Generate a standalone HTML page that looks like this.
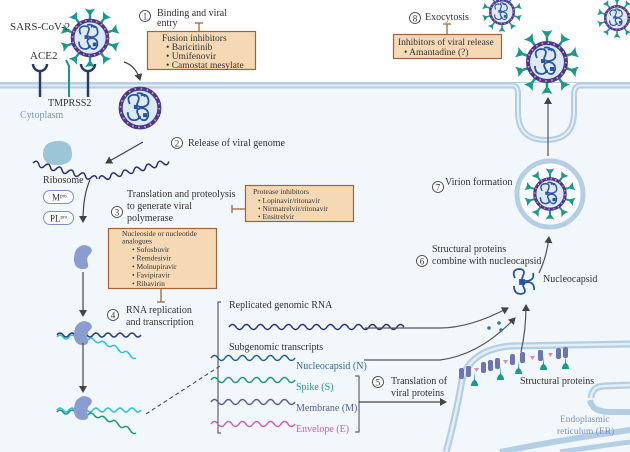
<!DOCTYPE html>
<html><head><meta charset="utf-8"><style>
html,body{margin:0;padding:0;background:#fff}
svg{display:block}
text{font-family:"Liberation Serif",serif;fill:#333}
</style></head><body>
<svg width="630" height="452" viewBox="0 0 630 452" xmlns="http://www.w3.org/2000/svg">
<defs>
<g id="sp"><path d="M-1.3 17 L-1.3 25 L1.3 25 L1.3 17Z" fill="#1b9a8b"/><path d="M-5.5 32 L0 23.5 L5.5 32 Q0 29.5 -5.5 32Z" fill="#1b9a8b"/></g>
<g id="core">
<circle r="19" fill="#dbeaf6" stroke="#4a3a8e" stroke-width="4"/>
<circle r="19" fill="none" stroke="#e58ab8" stroke-width="1.8" stroke-dasharray="1.6 4.4"/>
<path d="M-10 -4 q-4 -8 4 -9 q7 0 4 7 q-3 5 4 5 q8 -1 6 -8 q-2 -6 -7 -3 M-12 4 q0 8 7 8 q6 -1 3 -6 q-3 -5 4 -6 q7 1 6 8 q-2 6 -7 3 M-3 -14 q5 -2 8 3" fill="none" stroke="#2a54a6" stroke-width="1.8"/>
<rect x="-6" y="-3" width="4" height="4" fill="#2a54a6"/><rect x="3" y="5" width="4" height="4" fill="#2a54a6"/><rect x="-2" y="8" width="3" height="3" fill="#2a54a6"/>
</g>
<g id="vir">
<use href="#sp"/><use href="#sp" transform="rotate(36)"/><use href="#sp" transform="rotate(72)"/><use href="#sp" transform="rotate(108)"/><use href="#sp" transform="rotate(144)"/><use href="#sp" transform="rotate(180)"/><use href="#sp" transform="rotate(216)"/><use href="#sp" transform="rotate(252)"/><use href="#sp" transform="rotate(288)"/><use href="#sp" transform="rotate(324)"/>
<use href="#core"/>
</g>
<marker id="ah" markerWidth="8" markerHeight="8" refX="6" refY="4" orient="auto" markerUnits="userSpaceOnUse"><path d="M0 0 L7 4 L0 8Z" fill="#444"/></marker>
</defs>

<rect x="0" y="85" width="630" height="367" fill="#f2f7fc"/>
<path d="M0 85.5 H513 Q518 86 518 95 V112 Q518 140 546 140 Q574 140 574 112 V95 Q574 86 580 85.5 H630" fill="none" stroke="#b4cfe4" stroke-width="6"/>
<path d="M0 85.5 H513 Q518 86 518 95 V112 Q518 140 546 140 Q574 140 574 112 V95 Q574 86 580 85.5 H630" fill="none" stroke="#e3eef7" stroke-width="2"/>
<rect x="0" y="0" width="630" height="82" fill="#fff"/>
<path d="M0 82.5 H630" stroke="#b4cfe4" stroke-width="1"/>

<!-- ER -->
<path d="M446 452 Q455 420 462 380 Q470 350 510 346 L630 344" fill="none" stroke="#b4cfe4" stroke-width="7"/>
<path d="M446 452 Q455 420 462 380 Q470 350 510 346 L630 344" fill="none" stroke="#e3eef7" stroke-width="2.5"/>
<path d="M591 398 Q592 386 605 386 L630 385" fill="none" stroke="#b4cfe4" stroke-width="7"/>
<path d="M591 398 Q592 386 605 386 L630 385" fill="none" stroke="#e3eef7" stroke-width="2.5"/>
<path d="M590 400 Q592 412 610 412 L630 412" fill="none" stroke="#b4cfe4" stroke-width="6"/>
<path d="M500 452 Q560 440 630 430" fill="none" stroke="#b4cfe4" stroke-width="6"/>
<path d="M560 452 Q600 446 630 442" fill="none" stroke="#b4cfe4" stroke-width="5"/>
<g fill="#6c74b8">
<rect x="459" y="368" width="5" height="11" rx="2"/><rect x="466" y="366" width="5" height="11" rx="2"/><rect x="481" y="362" width="5" height="11" rx="2"/><rect x="488" y="360" width="5" height="11" rx="2"/><rect x="495" y="358" width="5" height="11" rx="2"/><rect x="510" y="354" width="5" height="11" rx="2"/><rect x="520" y="352" width="5" height="11" rx="2"/><rect x="538" y="350" width="5" height="11" rx="2"/><rect x="556" y="348" width="5" height="11" rx="2"/><rect x="563" y="347" width="5" height="11" rx="2"/>
</g>
<g fill="#e089b8"><path d="M474 368 l5 0 l-2.5 4z"/><path d="M503 360 l5 0 l-2.5 4z"/><path d="M530 356 l5 0 l-2.5 4z"/><path d="M548 353 l5 0 l-2.5 4z"/></g>
<g fill="#1b9a8b"><path d="M474 372 v8 q-3 2 -3 6 h7 q0 -4 -3 -6z"/><path d="M500 366 v8 q-3 2 -3 6 h7 q0 -4 -3 -6z"/><path d="M518 360 v8 q-3 2 -3 6 h7 q0 -4 -3 -6z"/><path d="M543 356 v8 q-3 2 -3 6 h7 q0 -4 -3 -6z"/><path d="M565 355 v8 q-3 2 -3 6 h7 q0 -4 -3 -6z"/></g>

<use href="#vir" transform="translate(90,38) scale(0.92)"/>
<g fill="none" stroke="#2a3d66" stroke-width="2.5">
<path d="M33 64 a7 7 0 0 0 14 0"/><path d="M40 71 V97"/>
<path d="M81 64 a7 7 0 0 0 14 0"/><path d="M88 71 V97"/>
</g>
<path d="M66 60 L69 66 V97" fill="none" stroke="#1b9a8b" stroke-width="2"/>
<text x="10" y="30" font-size="11">SARS-CoV-2</text>
<text x="30" y="59" font-size="11">ACE2</text>
<text x="48" y="106" font-size="10">TMPRSS2</text>
<text x="20" y="118" font-size="10" style="fill:#7d8fc6">Cytoplasm</text>

<circle cx="145" cy="16" r="5.5" fill="#fff" stroke="#333" stroke-width="0.8"/><text x="145" y="19.5" font-size="9" text-anchor="middle">1</text>
<text x="157" y="16" font-size="10">Binding and viral</text>
<text x="157" y="26" font-size="10">entry</text>
<path d="M199 23 V31 M195 23 H203" stroke="#a0643c" stroke-width="1.3"/>
<rect x="147.5" y="31.5" width="108" height="38" fill="#f5d9b5" stroke="#a0643c" stroke-width="1.2"/>
<text x="162" y="41" font-size="9.5">Fusion inhibitors</text>
<text x="166" y="50" font-size="9.5">•  Baricitinib</text>
<text x="166" y="59" font-size="9.5">•  Umifenovir</text>
<text x="166" y="68" font-size="9.5">•  Camostat mesylate</text>

<path d="M124 62 Q136 66 140 80" fill="none" stroke="#444" stroke-width="1.2" marker-end="url(#ah)"/>
<use href="#core" transform="translate(140,108) scale(1.02)"/>
<path d="M143 142 L106 163" stroke="#444" stroke-width="1.2" marker-end="url(#ah)"/>

<!-- ribosome & RNA -->
<path d="M43 154 q0 -12 14 -13 q14 -1 15 12 q1 11 -13 12 q-16 1 -16 -11z" fill="#9cc5d8"/>
<path d="M33 163 q3 -5 6 0 t6 0 t6 0 t6 0 t6 0 t6 0 t6 0 t6 0 t6 0 t6 0 t6 0" transform="rotate(14 33 163)" fill="none" stroke="#2d2f78" stroke-width="1.5"/>
<path d="M99 179 q3 -5 6 0 t6 0 t6 0 t6 0 t6 0 t6 0 t6 0 t6 0 t6 0 t6 0 t6 0 t6 0" transform="rotate(-14 99 179)" fill="none" stroke="#2d2f78" stroke-width="1.5"/>
<circle cx="177" cy="143" r="5.5" fill="#fff" stroke="#333" stroke-width="0.8"/><text x="177" y="146.5" font-size="9" text-anchor="middle">2</text>
<text x="188" y="146" font-size="10">Release of viral genome</text>
<text x="43" y="183" font-size="10">Ribosome</text>
<rect x="43.5" y="190.5" width="30" height="13" rx="6.5" fill="#fff" stroke="#7d8fc6"/><text x="52" y="200.5" font-size="9">M<tspan font-size="5" dy="-3">pro</tspan></text>
<rect x="43.5" y="211.5" width="30" height="13" rx="6.5" fill="#fff" stroke="#7d8fc6"/><text x="50" y="221.5" font-size="9">PL<tspan font-size="5" dy="-3">pro</tspan></text>

<text x="127" y="197" font-size="10">Translation and proteolysis</text>
<text x="127" y="209" font-size="10">to generate viral</text>
<text x="127" y="221" font-size="10">polymerase</text>
<circle cx="117" cy="212" r="5.5" fill="#fff" stroke="#333" stroke-width="0.8"/><text x="117" y="215.5" font-size="9" text-anchor="middle">3</text>
<path d="M232 209 H245 M232 205 V213" stroke="#a0643c" stroke-width="1.3"/>
<rect x="245.5" y="185.5" width="108" height="36" fill="#f5d9b5" stroke="#a0643c" stroke-width="1.2"/>
<text x="253" y="194" font-size="7.5">Protease inhibitors</text>
<text x="258" y="203" font-size="7.5">•  Lopinavir/ritonavir</text>
<text x="258" y="211" font-size="7.5">•  Nirmatrelvir/ritonavir</text>
<text x="258" y="219" font-size="7.5">•  Ensitrelvir</text>

<path d="M90 180 Q83 195 83 222" fill="none" stroke="#444" stroke-width="1.2" marker-end="url(#ah)"/>
<path d="M76 250 q6 -8 14 -3 q4 4 -1 8 q-3 3 -1 9 q1 5 -5 5 q-9 0 -9 -10 q0 -5 2 -9z" fill="#8b9dd0"/>
<path d="M83 272 V316" stroke="#444" stroke-width="1.2" marker-end="url(#ah)"/>
<path d="M57 335 q3 -4 6 0 t6 0 t6 0 t6 0 t6 0 t6 0 t6 0 t6 0 t6 0 t6 0 t6 0 t6 0 t6 0 t6 0" fill="none" stroke="#2d3a7a" stroke-width="1.5"/>
<path d="M57 337 q3 -4 6 0 t6 0 t6 0 t6 0" fill="none" stroke="#2ec1dc" stroke-width="1.5"/>
<path d="M88 340 q3 -4 6 0 t6 2 t6 2 t6 2 t6 3 t6 3 t6 3 t6 3" fill="none" stroke="#2ec1dc" stroke-width="1.5"/>
<path d="M76 326 q6 -8 14 -3 q4 4 -1 8 q-3 3 -1 9 q1 5 -5 5 q-9 0 -9 -10 q0 -5 2 -9z" fill="#8b9dd0"/>
<path d="M83 343 V392" stroke="#444" stroke-width="1.2" marker-end="url(#ah)"/>
<path d="M57 410 q3 -4 6 0 t6 0 t6 0 t6 0 t6 0 t6 0 t6 0 t6 0 t6 0 t6 0 t6 0 t6 0 t6 0 t6 0" fill="none" stroke="#2ec1dc" stroke-width="1.5"/>
<path d="M88 415 q3 -4 6 0 t6 2 t6 2 t6 2 t6 3 t6 3 t6 3 t6 3" fill="none" stroke="#1b9a7a" stroke-width="1.5"/>
<path d="M57 412 q3 -4 6 0 t6 0 t6 0" fill="none" stroke="#1b9a7a" stroke-width="1.5"/>
<path d="M76 401 q6 -8 14 -3 q4 4 -1 8 q-3 3 -1 9 q1 5 -5 5 q-9 0 -9 -10 q0 -5 2 -9z" fill="#8b9dd0"/>
<path d="M146 414 L220 366" stroke="#444" stroke-width="1" stroke-dasharray="4 3"/>

<rect x="108.5" y="228.5" width="108" height="60" fill="#f5d9b5" stroke="#a0643c" stroke-width="1.2"/>
<text x="122" y="236" font-size="7.5">Nucleoside or nucleotide</text>
<text x="122" y="243.5" font-size="7.5">analogues</text>
<text x="132" y="252" font-size="7.5">•  Sofosbuvir</text>
<text x="132" y="260.5" font-size="7.5">•  Remdesivir</text>
<text x="132" y="269" font-size="7.5">•  Molnupiravir</text>
<text x="132" y="277.5" font-size="7.5">•  Favipiravir</text>
<text x="132" y="286" font-size="7.5">•  Ribavirin</text>
<path d="M161 289 V302 M157 302 H165" stroke="#a0643c" stroke-width="1.3"/>
<circle cx="113" cy="315" r="5.5" fill="#fff" stroke="#333" stroke-width="0.8"/><text x="113" y="318.5" font-size="9" text-anchor="middle">4</text>
<text x="126" y="313" font-size="10">RNA replication</text>
<text x="126" y="325" font-size="10">and transcription</text>

<path d="M221 302 H218 V433 H221" fill="none" stroke="#444" stroke-width="1"/>
<text x="229" y="308" font-size="10">Replicated genomic RNA</text>
<path d="M229 327 q3.5 -5 7 0 t7 0 t7 0 t7 0 t7 0 t7 0 t7 0 t7 0 t7 0 t7 0 t7 0 t7 0 t7 0 t7 0 t7 0 t7 0 t7 0 t7 0 t7 0 t7 0 t7 0 t7 0 t7 0 t7 0 t7 0" fill="none" stroke="#2d2f78" stroke-width="1.5"/>
<path d="M365 328 H440 Q470 328 508 308" fill="none" stroke="#555" stroke-width="1.2" marker-end="url(#ah)"/>
<text x="229" y="350" font-size="10">Subgenomic transcripts</text>
<path d="M211 358 q3.5 -5 7 0 t7 0 t7 0 t7 0 t7 0 t7 0 t7 0 t7 0 t7 0 t7 0 t7 0 t7 0" fill="none" stroke="#1f5f9a" stroke-width="1.5"/>
<path d="M211 380 q3.5 -5 7 0 t7 0 t7 0 t7 0 t7 0 t7 0 t7 0 t7 0 t7 0 t7 0 t7 0 t7 0" fill="none" stroke="#1b9a7a" stroke-width="1.5"/>
<path d="M211 402 q3.5 -5 7 0 t7 0 t7 0 t7 0 t7 0 t7 0 t7 0 t7 0 t7 0 t7 0 t7 0 t7 0" fill="none" stroke="#5a5aa0" stroke-width="1.5"/>
<path d="M211 424 q3.5 -5 7 0 t7 0 t7 0 t7 0 t7 0 t7 0 t7 0 t7 0 t7 0 t7 0 t7 0 t7 0" fill="none" stroke="#c65fb5" stroke-width="1.5"/>
<text x="296" y="369" font-size="10" style="fill:#2d6fa6">Nucleocapsid (N)</text>
<text x="296" y="390" font-size="10" style="fill:#1f9a8a">Spike (S)</text>
<text x="296" y="411" font-size="10" style="fill:#5a5aa8">Membrane (M)</text>
<text x="296" y="432" font-size="10" style="fill:#c65fb5">Envelope (E)</text>
<path d="M364 360 H440 Q480 355 515 318" fill="none" stroke="#555" stroke-width="1.2" marker-end="url(#ah)"/>
<path d="M355 376 H359 V432 H355" fill="none" stroke="#444" stroke-width="1"/>
<path d="M359 402 H446" stroke="#444" stroke-width="1.2" marker-end="url(#ah)"/>
<circle cx="378" cy="382" r="5.5" fill="#fff" stroke="#333" stroke-width="0.8"/><text x="378" y="385.5" font-size="9" text-anchor="middle">5</text>
<text x="391" y="384" font-size="10">Translation of</text>
<text x="391" y="396" font-size="10">viral proteins</text>
<text x="520" y="384" font-size="10">Structural proteins</text>
<text x="560" y="422" font-size="9.5" style="fill:#7d8fc6">Endoplasmic</text>
<text x="557" y="434" font-size="9.5" style="fill:#7d8fc6">reticulum (ER)</text>
<circle cx="489" cy="328" r="1.8" fill="#3a6ad0"/><circle cx="499" cy="323" r="1.8" fill="#3a6ad0"/><circle cx="501" cy="330" r="1.8" fill="#3a6ad0"/>
<path d="M521 352 Q526 330 526 305" fill="none" stroke="#555" stroke-width="1.2" marker-end="url(#ah)"/>

<g transform="translate(523,282)" fill="none" stroke="#2a54a6" stroke-width="1.8">
<path d="M-8 -4 q-4 -8 4 -9 q7 0 4 7 q-3 5 4 5 q8 -1 6 -8 M-9 4 q0 8 7 8 q6 -1 3 -6 q-3 -5 4 -6 q7 1 6 8"/>
<rect x="-3" y="-2" width="4" height="4" fill="#2a54a6"/>
</g>
<text x="543" y="282" font-size="10">Nucleocapsid</text>
<circle cx="422" cy="261" r="5.5" fill="#fff" stroke="#333" stroke-width="0.8"/><text x="422" y="264.5" font-size="9" text-anchor="middle">6</text>
<text x="432" y="252" font-size="10">Structural proteins</text>
<text x="432" y="264" font-size="10">combine with nucleocapsid</text>
<path d="M539 273 Q547 256 549 237" fill="none" stroke="#555" stroke-width="1.2" marker-end="url(#ah)"/>

<circle cx="550" cy="194" r="33" fill="#fff" stroke="#b4cfe4" stroke-width="5"/>
<use href="#vir" transform="translate(550,194) scale(0.8)"/>
<circle cx="438" cy="187" r="5.5" fill="#fff" stroke="#333" stroke-width="0.8"/><text x="438" y="190.5" font-size="9" text-anchor="middle">7</text>
<text x="445" y="185" font-size="10">Virion formation</text>
<path d="M548 156 V98" stroke="#555" stroke-width="1.2" marker-end="url(#ah)"/>

<use href="#vir" transform="translate(547,62) scale(1.0)"/>
<use href="#vir" transform="translate(502,12) scale(0.62)"/>
<use href="#vir" transform="translate(617,18) scale(0.62)"/>
<circle cx="415" cy="18" r="5.5" fill="#fff" stroke="#333" stroke-width="0.8"/><text x="415" y="21.5" font-size="9" text-anchor="middle">8</text>
<text x="425" y="20" font-size="10">Exocytosis</text>
<path d="M447 24 V34 M443 24 H451" stroke="#a0643c" stroke-width="1.3"/>
<rect x="393.5" y="34.5" width="108" height="24" fill="#f5d9b5" stroke="#a0643c" stroke-width="1.2"/>
<text x="398" y="45" font-size="9.5">Inhibitors of viral release</text>
<text x="404" y="55" font-size="9.5">•  Amantadine (?)</text>
</svg>
</body></html>
